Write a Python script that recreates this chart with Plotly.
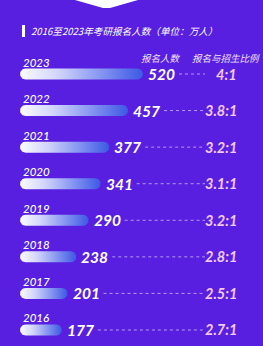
import numpy as np
import plotly.graph_objects as go

# ---- data ----
years = ["2023", "2022", "2021", "2020", "2019", "2018", "2017", "2016"]
applicants = [520, 457, 377, 341, 290, 238, 201, 177]
ratios = ["4:1", "3.8:1", "3.2:1", "3.1:1", "3.2:1", "2.8:1", "2.5:1", "2.7:1"]
title_text = "2016至2023年考研报名人数（单位：万人）"
col1_text = "报名人数"
col2_text = "报名与招生比例"

# ---- layout constants (pixels) ----
W, H = 263, 346
X0, S = 20.0, 0.2365          # pixel x = X0 + S * value
Y0, DY = 74.0, 36.57          # pixel y = Y0 + DY * row
BAR_HALF = 5.5                # half bar thickness in px

BG = "#581fe0"
FONT = "Lato, 'Noto Sans CJK SC', sans-serif"
CJK = "'Noto Sans CJK SC', sans-serif"

xr = [-X0 / S, (W - X0) / S]
yr = [(H - Y0) / DY, -Y0 / DY]

def px_to_x(p):
    return (p - X0) / S

def paper(px, py):
    return px / W, 1 - py / H

fig = go.Figure()

rx = BAR_HALF / S
hy = BAR_HALF / DY
for r, v in enumerate(applicants):
    tl = np.linspace(np.pi / 2, 3 * np.pi / 2, 24)
    tr = np.linspace(-np.pi / 2, np.pi / 2, 24)
    xs = np.concatenate([rx + rx * np.cos(tl), (v - rx) + rx * np.cos(tr)])
    ys = np.concatenate([r + hy * np.sin(tl), r + hy * np.sin(tr)])
    xs = np.append(xs, xs[0])
    ys = np.append(ys, ys[0])
    fig.add_trace(go.Scatter(
        x=xs, y=ys, mode="lines", fill="toself",
        line=dict(width=0, color="rgba(0,0,0,0)"),
        fillgradient=dict(type="horizontal",
                          colorscale=[[0, "#fbfaff"], [0.3, "#d3d6fa"],
                                      [0.7, "#7d8ef0"], [1, "#3d58e4"]]),
        hoverinfo="skip", showlegend=False))

annotations = []
shapes = []
for r, (yr_lbl, v, ratio) in enumerate(zip(years, applicants, ratios)):
    annotations.append(dict(x=0, y=r, xref="x", yref="y", text=yr_lbl,
                            xanchor="left", yanchor="middle", yshift=12, xshift=1,
                            showarrow=False,
                            font=dict(family=FONT, size=11.5, color="white",
                                      style="italic", weight=500)))
    annotations.append(dict(x=v, y=r, xref="x", yref="y", text=str(v),
                            xanchor="left", yanchor="middle", xshift=3,
                            showarrow=False,
                            font=dict(family=FONT, size=15.5, color="white",
                                      style="italic", weight="bold")))
    xa, ya = paper(239, 0)
    annotations.append(dict(x=xa, y=r, xref="paper", yref="y", text=ratio,
                            xanchor="right", yanchor="middle",
                            showarrow=False,
                            font=dict(family=FONT, size=14.5, color="#f4c9ee",
                                      style="italic", weight="bold")))
    shapes.append(dict(type="line", xref="x", yref="y",
                       x0=v + 36 / S, x1=px_to_x(205), y0=r, y1=r,
                       line=dict(color="rgba(215,195,245,0.75)", width=1, dash="dot")))

# header
hx, hy_ = paper(29, 31)
annotations.append(dict(x=hx, y=hy_, xref="paper", yref="paper", text=title_text,
                        xanchor="left", yanchor="middle", showarrow=False,
                        font=dict(family=CJK, size=9.6, color="white", style="italic")))
cx, cy = paper(161, 58)
annotations.append(dict(x=cx, y=cy, xref="paper", yref="paper", text=col1_text,
                        xanchor="center", yanchor="middle", showarrow=False,
                        font=dict(family=CJK, size=9.5, color="#f3e0f7", style="italic")))
cx, cy = paper(226, 58)
annotations.append(dict(x=cx, y=cy, xref="paper", yref="paper", text=col2_text,
                        xanchor="center", yanchor="middle", showarrow=False,
                        font=dict(family=CJK, size=9.5, color="#f3e0f7", style="italic")))

# header marker bar
bx0, by0 = paper(22, 25)
bx1, by1 = paper(25, 37)
shapes.append(dict(type="rect", xref="paper", yref="paper",
                   x0=bx0, x1=bx1, y0=by1, y1=by0, line=dict(width=0),
                   fillcolor="white"))
# top chevron
p = [paper(75, 0), paper(138, 0), paper(110, 8), paper(103, 8)]
path = "M {} {} L {} {} L {} {} L {} {} Z".format(*[c for pt in p for c in pt])
shapes.append(dict(type="path", xref="paper", yref="paper", path=path,
                   line=dict(width=0), fillcolor="white"))

fig.update_layout(
    width=W, height=H,
    margin=dict(l=0, r=0, t=0, b=0),
    paper_bgcolor=BG, plot_bgcolor=BG,
    xaxis=dict(range=xr, visible=False, fixedrange=True),
    yaxis=dict(range=yr, visible=False, fixedrange=True),
    annotations=annotations, shapes=shapes,
    showlegend=False,
)

fig.write_html("out.html", config={"displayModeBar": False})
